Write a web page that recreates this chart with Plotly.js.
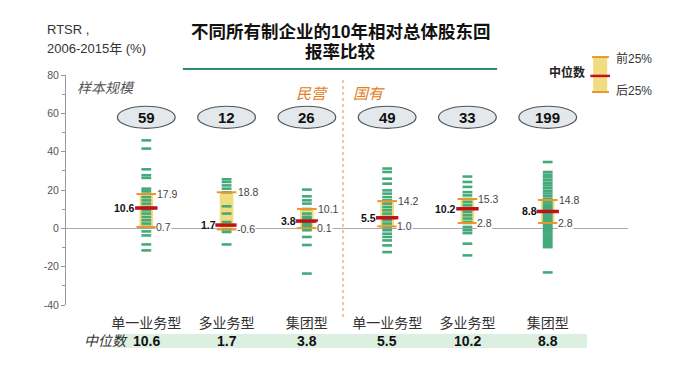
<!DOCTYPE html>
<html><head><meta charset="utf-8">
<script src="https://cdn.plot.ly/plotly-3.0.1.min.js"></script>
<style>html,body{margin:0;padding:0;background:#fff}#c{width:699px;height:376px}</style>
</head><body><div id="c"></div>
<script>
const categories = ['单一业务型','多业务型','集团型','单一业务型','多业务型','集团型'];
const sampleSizes = [59, 12, 26, 49, 33, 199];
const medians = [10.6, 1.7, 3.8, 5.5, 10.2, 8.8];
const q3 = [17.9, 18.8, 10.1, 14.2, 15.3, 14.8];
const q1 = [0.7, -0.6, 0.1, 1.0, 2.8, 2.8];
const groupLabels = ['民营', '国有'];
const yTickVals = [-40, -20, 0, 20, 40, 60, 80];
const yTickLabels = ['-40', '-20', '0', '20', '40', '60', '80'];
const col1Points = [45.9, 41.6, 30.8, 27.7, 26.3, 20.7, 19.5, 18.1, 16.3, 14.6, 12.9, 11.1, 9.4, 7.7, 5.9, 4.2, 2.5, 0.7, -1.6, -3.7, -8.4, -11.5];
const col2Points = [25.6, 24.2, 22.4, 20.7, 18.8, 11.5, 7.7, 3.3, 1.7, -0.6, -1.9, -8.4];
const col3Points = [20.2, 16.7, 14.6, 12.9, 10.1, 7.7, 6.0, 5.1, 3.8, 2.5, 1.5, 0.7, 0.1, -1.0, -4.5, -8.7, -23.6];
const col4Points = [31.2, 29.4, 25.9, 23.3, 19.8, 18.1, 16.3, 14.6, 12.9, 11.1, 9.4, 7.7, 5.9, 4.2, 2.5, 0.7, -1.0, -2.8, -4.5, -6.3, -8.9, -12.4];
const col5Points = [27.0, 24.2, 21.6, 18.9, 17.2, 15.3, 13.7, 12.0, 10.2, 8.5, 6.8, 5.1, 3.3, 2.8, 0.7, -1.0, -2.5, -8.0, -14.1];
const col6Points = [34.6, 29.4, 28.0, 26.6, 25.2, 23.8, 22.4, 21.0, 19.6, 18.2, 16.8, 15.4, 14.8, 13.5, 12.2, 11.0, 9.9, 8.8, 7.7, 6.6, 5.5, 4.4, 3.3, 2.8, 1.8, 0.8, -0.2, -1.2, -2.2, -3.3, -4.4, -5.5, -6.6, -7.7, -8.8, -9.8, -23.0];
const allPoints = [col1Points, col2Points, col3Points, col4Points, col5Points, col6Points];

const FONT = 'Liberation Sans, Arial, "Noto Sans CJK SC", sans-serif';
const pos = categories.map((c, i) => i + 1);

const dx = [], dy = [];
allPoints.forEach((arr, i) => arr.forEach(v => { dx.push(pos[i]); dy.push(v); }));

const traces = [
  {type: 'bar', x: pos, base: q1, y: q3.map((v, i) => v - q1[i]), width: 0.17,
   marker: {color: '#f2dc82', line: {width: 0}}, hoverinfo: 'skip', showlegend: false},
  {type: 'scatter', mode: 'markers', x: dx, y: dy, hoverinfo: 'skip', showlegend: false,
   marker: {symbol: 'line-ew', size: 7, line: {color: '#45aa7b', width: 2.6}}},
  {type: 'scatter', mode: 'markers', x: pos.concat(pos), y: q3.concat(q1), hoverinfo: 'skip', showlegend: false,
   marker: {symbol: 'line-ew', size: 14, line: {color: '#e8962e', width: 2}}},
  {type: 'scatter', mode: 'markers', x: pos, y: medians, hoverinfo: 'skip', showlegend: false,
   marker: {symbol: 'line-ew', size: 16, line: {color: '#c0101a', width: 3.5}}}
];

const shapes = [];
const annotations = [];
pos.forEach((p, i) => {
  shapes.push({type: 'circle', xref: 'x', yref: 'y', x0: p - 0.36, x1: p + 0.36, y0: 52.2, y1: 63.7,
    fillcolor: '#e2e8eb', line: {color: '#555', width: 1.2}});
  annotations.push({x: p, y: 58, xref: 'x', yref: 'y', text: '<b>' + sampleSizes[i] + '</b>', showarrow: false,
    font: {family: FONT, size: 15, color: '#111'}});
  annotations.push({x: p, y: medians[i], xref: 'x', yref: 'y', text: '<b>' + medians[i].toFixed(1) + '</b>',
    showarrow: false, xanchor: 'right', xshift: -9, font: {family: FONT, size: 10.5, color: '#111'}});
  annotations.push({x: p, y: q3[i], xref: 'x', yref: 'y', text: q3[i].toFixed(1), showarrow: false,
    xanchor: 'left', xshift: 9, font: {family: FONT, size: 10.5, color: '#444'}});
  annotations.push({x: p, y: q1[i], xref: 'x', yref: 'y', text: q1[i].toFixed(1), showarrow: false,
    xanchor: 'left', xshift: 9, bgcolor: 'rgba(255,255,255,0.9)', borderpad: 0, font: {family: FONT, size: 10.5, color: '#444'}});
  annotations.push({x: p, y: -0.157, xref: 'x', yref: 'paper', text: '<b>' + medians[i].toFixed(1) + '</b>',
    showarrow: false, yanchor: 'middle', font: {family: FONT, size: 14, color: '#111'}});
});

// median band at bottom
shapes.unshift({type: 'rect', xref: 'x', yref: 'paper', x0: 0.61, x1: 6.49, y0: -0.187, y1: -0.126,
  fillcolor: '#dcefe1', line: {width: 0}, layer: 'below'});
// divider
shapes.push({type: 'line', xref: 'x', yref: 'paper', x0: 3.45, x1: 3.45, y0: 0.978, y1: -0.057,
  line: {color: '#f0a56a', width: 1.3, dash: 'dot'}});
// title underline
shapes.push({type: 'line', xref: 'paper', yref: 'paper', x0: 0.208, x1: 0.767, y0: 1.026, y1: 1.026,
  line: {color: '#2e8a6c', width: 2}});
// legend glyph
shapes.push({type: 'rect', xref: 'paper', yref: 'paper', x0: 0.938, x1: 0.963, y0: 0.926, y1: 1.078,
  fillcolor: '#f2dc82', line: {width: 0}});
shapes.push({type: 'line', xref: 'paper', yref: 'paper', x0: 0.936, x1: 0.966, y0: 1.078, y1: 1.078,
  line: {color: '#e8962e', width: 2}});
shapes.push({type: 'line', xref: 'paper', yref: 'paper', x0: 0.936, x1: 0.966, y0: 0.926, y1: 0.926,
  line: {color: '#e8962e', width: 2}});
shapes.push({type: 'line', xref: 'paper', yref: 'paper', x0: 0.933, x1: 0.968, y0: 0.996, y1: 0.996,
  line: {color: '#c0101a', width: 2.5}});

annotations.push(
  {xref: 'paper', yref: 'paper', x: 0.489, y: 1.186, text: '<b>不同所有制企业的10年相对总体股东回</b>', showarrow: false,
   yanchor: 'middle', font: {family: FONT, size: 17.5, color: '#111'}},
  {xref: 'paper', yref: 'paper', x: 0.489, y: 1.1, text: '<b>报率比较</b>', showarrow: false,
   yanchor: 'middle', font: {family: FONT, size: 17.5, color: '#111'}},
  {xref: 'paper', yref: 'paper', x: -0.037, y: 1.196, text: 'RTSR ,', showarrow: false, xanchor: 'left',
   yanchor: 'middle', font: {family: FONT, size: 13, color: '#333'}},
  {xref: 'paper', yref: 'paper', x: -0.037, y: 1.117, text: '2006-2015年 (%)', showarrow: false, xanchor: 'left',
   yanchor: 'middle', font: {family: FONT, size: 13, color: '#333'}},
  {xref: 'x', yref: 'y', x: 0.5, y: 73.1, text: '<i>样本规模</i>', showarrow: false,
   font: {family: FONT, size: 14, color: '#555'}},
  {xref: 'x', yref: 'y', x: 3.06, y: 70.5, text: '<i>' + groupLabels[0] + '</i>', showarrow: false,
   font: {family: FONT, size: 15, color: '#e37d26'}},
  {xref: 'x', yref: 'y', x: 3.77, y: 70.5, text: '<i>' + groupLabels[1] + '</i>', showarrow: false,
   font: {family: FONT, size: 15, color: '#e37d26'}},
  {xref: 'paper', yref: 'paper', x: 0.927, y: 1.009, text: '<b>中位数</b>', showarrow: false, xanchor: 'right',
   yanchor: 'middle', font: {family: FONT, size: 12, color: '#222'}},
  {xref: 'paper', yref: 'paper', x: 0.975, y: 1.07, text: '前25%', showarrow: false, xanchor: 'left',
   yanchor: 'middle', font: {family: FONT, size: 12, color: '#333'}},
  {xref: 'paper', yref: 'paper', x: 0.975, y: 0.93, text: '后25%', showarrow: false, xanchor: 'left',
   yanchor: 'middle', font: {family: FONT, size: 12, color: '#333'}},
  {xref: 'paper', yref: 'paper', x: 0.028, y: -0.157, text: '<i>中位数</i>', showarrow: false,
   yanchor: 'middle', font: {family: FONT, size: 14, color: '#333'}}
);

const layout = {
  width: 699, height: 376,
  margin: {l: 66, r: 71, t: 75, b: 71},
  paper_bgcolor: '#fff', plot_bgcolor: '#fff',
  showlegend: false,
  font: {family: FONT},
  xaxis: {range: [0, 7], showgrid: false, zeroline: false, showline: false,
    tickvals: pos, ticktext: categories, ticks: '', ticklabelstandoff: 8,
    tickfont: {family: FONT, size: 14, color: '#333'}, fixedrange: true},
  yaxis: {range: [-40, 80], tickvals: yTickVals, ticktext: yTickLabels, showgrid: false, showline: true,
    linecolor: '#999', linewidth: 1,
    ticks: 'outside', ticklen: 4, tickcolor: '#999', tickfont: {family: FONT, size: 10.5, color: '#555'},
    zeroline: true, zerolinecolor: '#aaa', zerolinewidth: 1.5,
    minor: {dtick: 10, ticks: 'outside', ticklen: 3, tickcolor: '#999'}, fixedrange: true},
  shapes: shapes,
  annotations: annotations
};

Plotly.newPlot('c', traces, layout, {displayModeBar: false, staticPlot: true});
</script>
</body></html>
